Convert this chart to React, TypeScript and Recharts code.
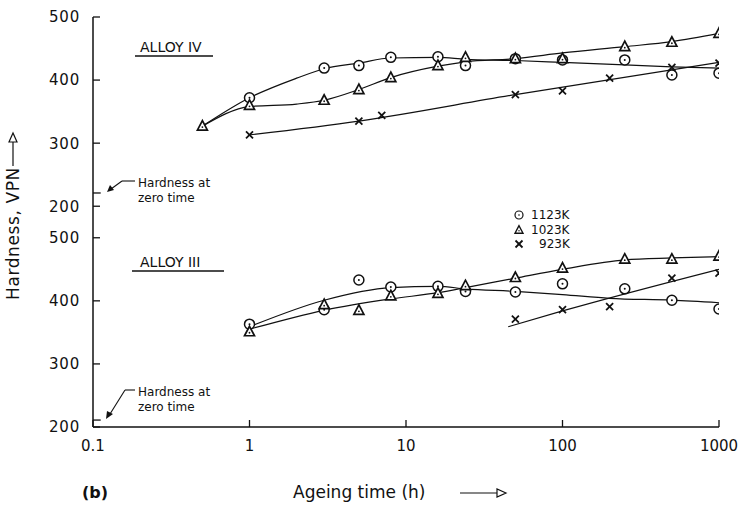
import { FC } from "react";
import {
    ComposedChart,
    Line,
    Scatter,
    XAxis,
    YAxis,
    ReferenceLine,
} from "recharts";

// upper panel (Alloy IV) is shifted up by this many HV units on the shared axis
const UPPER_OFFSET = 350;

const xTicks = [0.1, 1, 10, 100, 1000];
const xTickLabels = ["0.1", "1", "10", "100", "1000"];
const yTicks = [200, 300, 400, 500, 550, 650, 750, 850];

// Alloy IV measured points
const iv1123Times = [1, 3, 5, 8, 16, 24, 50, 100, 250, 500, 1000];
const iv1123Hv = [372, 419, 423, 436, 437, 423, 434, 432, 432, 408, 411];
const iv1023Times = [0.5, 1, 3, 5, 8, 16, 24, 50, 100, 250, 500, 1000];
const iv1023Hv = [327, 360, 368, 385, 404, 423, 436, 434, 434, 453, 460, 474];
const iv923Times = [1, 5, 7, 50, 100, 200, 500, 1000];
const iv923Hv = [313, 335, 344, 377, 383, 403, 420, 427];

// Alloy IV drawn curves
const iv1123FitTimes = [0.5, 1, 2, 3, 5, 8, 16, 24, 50, 100, 250, 500, 1000];
const iv1123FitHv = [327, 372, 403, 418, 427, 435, 436, 433, 431, 428, 424, 421, 419];
const iv1023FitTimes = [0.5, 1, 2, 3, 5, 8, 16, 24, 50, 100, 250, 500, 1000];
const iv1023FitHv = [327, 358, 362, 368, 385, 404, 422, 429, 434, 443, 453, 461, 474];
const iv923FitTimes = [1, 5, 50, 1000];
const iv923FitHv = [313, 335, 377, 428];

// Alloy III measured points
const iii1123Times = [1, 3, 5, 8, 16, 24, 50, 100, 250, 500, 1000];
const iii1123Hv = [363, 386, 433, 422, 423, 415, 414, 427, 419, 401, 387];
const iii1023Times = [1, 3, 5, 8, 16, 24, 50, 100, 250, 500, 1000];
const iii1023Hv = [351, 394, 385, 408, 412, 424, 437, 452, 466, 466, 471];
const iii923Times = [50, 100, 200, 500, 1000];
const iii923Hv = [371, 386, 391, 436, 444];

// Alloy III drawn curves
const iii1123FitTimes = [1, 3, 8, 16, 24, 50, 100, 200, 500, 1000];
const iii1123FitHv = [359, 401, 421, 423, 419, 415, 410, 404, 401, 397];
const iii1023FitTimes = [1, 3, 8, 16, 24, 50, 100, 250, 500, 1000];
const iii1023FitHv = [355, 385, 403, 413, 421, 436, 450, 465, 468, 470];
const iii923FitTimes = [45, 100, 1000];
const iii923FitHv = [359, 384, 450];

// hardness at zero time
const zeroHv4 = 221;
const zeroHv3 = 211;

const pts = (ts: number[], vs: number[], off = 0) =>
    ts.map((t, i) => ({ t, c: vs[i] + off }));

const INK = "#111";
const FONT = "DejaVu Sans, sans-serif";

const CircleMark = (p: any) => (
    <g>
        <circle cx={p.cx} cy={p.cy} r={5} fill="#fff" stroke={INK} strokeWidth={1.5} />
        <circle cx={p.cx} cy={p.cy} r={1} fill={INK} />
    </g>
);

const TriMark = (p: any) => (
    <g>
        <polygon
            points={`${p.cx},${p.cy - 5.5} ${p.cx - 5},${p.cy + 4} ${p.cx + 5},${p.cy + 4}`}
            fill="#fff"
            stroke={INK}
            strokeWidth={1.7}
        />
        <circle cx={p.cx} cy={p.cy + 1} r={0.9} fill={INK} />
    </g>
);

const CrossMark = (p: any) => (
    <g stroke={INK} strokeWidth={1.8}>
        <line x1={p.cx - 3.5} y1={p.cy - 3.5} x2={p.cx + 3.5} y2={p.cy + 3.5} />
        <line x1={p.cx - 3.5} y1={p.cy + 3.5} x2={p.cx + 3.5} y2={p.cy - 3.5} />
    </g>
);

const YTick = (p: any) => {
    const v = p.payload.value;
    const label = v >= 550 ? v - UPPER_OFFSET : v;
    return (
        <g>
            <text x={p.x} y={p.y} dy="0.36em" textAnchor="end" fontSize={15} letterSpacing={0.8} fontFamily={FONT} fill={INK}>
                {label}
            </text>
            <line x1={p.x + 13} x2={p.x + 20} y1={p.y} y2={p.y} stroke={INK} strokeWidth={1.3} />
        </g>
    );
};

const XTick = (p: any) => {
    const i = xTicks.indexOf(p.payload.value);
    return (
        <g>
            <text x={p.x} y={p.y} dy="0.71em" textAnchor="middle" fontSize={15} fontFamily={FONT} fill={INK}>
                {xTickLabels[i]}
            </text>
            <line x1={p.x} x2={p.x} y1={p.y - 13} y2={p.y - 20} stroke={INK} strokeWidth={1.3} />
        </g>
    );
};

const lineProps = {
    type: "monotone" as const,
    dataKey: "c",
    stroke: INK,
    strokeWidth: 1.2,
    dot: false,
    isAnimationActive: false,
};

const App: FC = () => {
    return (
        <div style={{ position: "absolute", left: 0, top: 0, width: 743, height: 510, background: "#fff" }}>
            <ComposedChart width={743} height={510} margin={{ top: 17, right: 24, bottom: 53, left: 0 }}>
                <XAxis
                    dataKey="t"
                    type="number"
                    scale="log"
                    domain={[0.1, 1000]}
                    allowDataOverflow
                    ticks={xTicks}
                    tick={<XTick />}
                    height={30}
                    tickSize={0}
                    tickMargin={13}
                    tickLine={false}
                    axisLine={{ stroke: INK, strokeWidth: 1.5 }}
                />
                <YAxis
                    dataKey="c"
                    type="number"
                    domain={[200, 850]}
                    allowDataOverflow
                    ticks={yTicks}
                    width={93}
                    tick={<YTick />}
                    tickSize={0}
                    tickMargin={13}
                    tickLine={false}
                    interval={0}
                    axisLine={{ stroke: INK, strokeWidth: 1.5 }}
                />
                <ReferenceLine
                    segment={[{ x: 0.1, y: zeroHv4 + UPPER_OFFSET }, { x: 0.112, y: zeroHv4 + UPPER_OFFSET }]}
                    stroke={INK}
                    strokeWidth={1.3}
                />
                <ReferenceLine
                    segment={[{ x: 0.1, y: zeroHv3 }, { x: 0.112, y: zeroHv3 }]}
                    stroke={INK}
                    strokeWidth={1.3}
                />

                <Line {...lineProps} data={pts(iv1123FitTimes, iv1123FitHv, UPPER_OFFSET)} />
                <Line {...lineProps} data={pts(iv1023FitTimes, iv1023FitHv, UPPER_OFFSET)} />
                <Line {...lineProps} data={pts(iv923FitTimes, iv923FitHv, UPPER_OFFSET)} />
                <Line {...lineProps} data={pts(iii1123FitTimes, iii1123FitHv)} />
                <Line {...lineProps} data={pts(iii1023FitTimes, iii1023FitHv)} />
                <Line {...lineProps} data={pts(iii923FitTimes, iii923FitHv)} />

                <Scatter data={pts(iv1123Times, iv1123Hv, UPPER_OFFSET)} dataKey="c" shape={CircleMark} isAnimationActive={false} />
                <Scatter data={pts(iv1023Times, iv1023Hv, UPPER_OFFSET)} dataKey="c" shape={TriMark} isAnimationActive={false} />
                <Scatter data={pts(iv923Times, iv923Hv, UPPER_OFFSET)} dataKey="c" shape={CrossMark} isAnimationActive={false} />
                <Scatter data={pts(iii1123Times, iii1123Hv)} dataKey="c" shape={CircleMark} isAnimationActive={false} />
                <Scatter data={pts(iii1023Times, iii1023Hv)} dataKey="c" shape={TriMark} isAnimationActive={false} />
                <Scatter data={pts(iii923Times, iii923Hv)} dataKey="c" shape={CrossMark} isAnimationActive={false} />
            </ComposedChart>

            {/* annotations */}
            <svg
                width={743}
                height={510}
                style={{ position: "absolute", left: 0, top: 0, pointerEvents: "none" }}
                fontFamily={FONT}
                fill={INK}
            >
                <text x={140} y={52} fontSize={14}>ALLOY IV</text>
                <line x1={135} x2={213} y1={56} y2={56} stroke={INK} strokeWidth={1.4} />
                <text x={140} y={267} fontSize={14}>ALLOY III</text>
                <line x1={132} x2={224} y1={271} y2={271} stroke={INK} strokeWidth={1.4} />

                <text x={138} y={187} fontSize={12}>Hardness at</text>
                <text x={138} y={202} fontSize={12}>zero time</text>
                <line x1={135} x2={122} y1={181} y2={181} stroke={INK} strokeWidth={1.1} />
                <line x1={122} x2={111} y1={181} y2={189} stroke={INK} strokeWidth={1.1} />
                <polygon points="107,192 110,185 114,190" fill={INK} />

                <text x={138} y={396} fontSize={12}>Hardness at</text>
                <text x={138} y={411} fontSize={12}>zero time</text>
                <line x1={135} x2={125} y1={390} y2={390} stroke={INK} strokeWidth={1.1} />
                <line x1={125} x2={110} y1={390} y2={414} stroke={INK} strokeWidth={1.1} />
                <polygon points="106,419 107,411 113,414" fill={INK} />

                <g transform="translate(519,215) scale(0.8) translate(-519,-215)">
                    <CircleMark cx={519} cy={215} />
                </g>
                <g transform="translate(519,230) scale(0.8) translate(-519,-230)">
                    <TriMark cx={519} cy={230} />
                </g>
                <CrossMark cx={519} cy={244} />
                <text x={531} y={219} fontSize={12}>1123K</text>
                <text x={531} y={234} fontSize={12}>1023K</text>
                <text x={539} y={248} fontSize={12}>923K</text>

                <text transform="translate(19,300) rotate(-90)" fontSize={17} letterSpacing={0.6}>
                    Hardness, VPN
                </text>
                <line x1={13} x2={13} y1={166} y2={142} stroke={INK} strokeWidth={1.2} />
                <polygon points="13,133 9,142 17,142" fill="#fff" stroke={INK} strokeWidth={1.2} />

                <text x={293} y={498} fontSize={17}>Ageing time (h)</text>
                <line x1={460} x2={497} y1={493} y2={493} stroke={INK} strokeWidth={1.2} />
                <polygon points="506,493 497,489 497,497" fill="#fff" stroke={INK} strokeWidth={1.2} />

                <text x={82} y={498} fontSize={16} fontWeight="bold">(b)</text>
            </svg>
        </div>
    );
};

export default App;
